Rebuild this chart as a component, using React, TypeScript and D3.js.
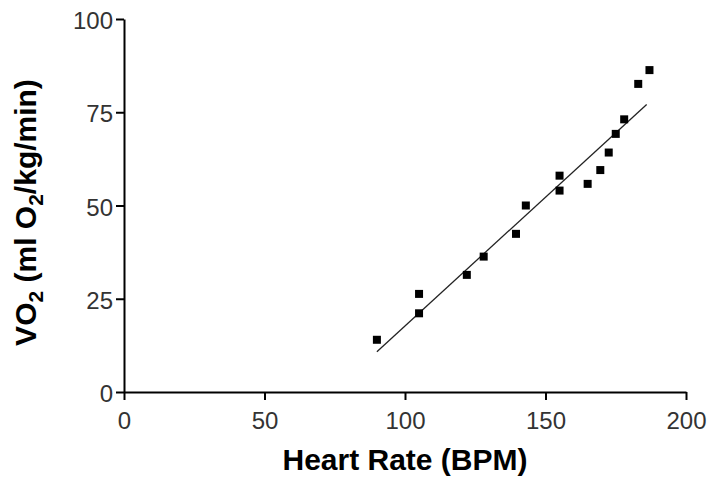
import { useEffect, useRef } from 'react'
import * as d3 from 'd3'

const heartRate = [90, 105, 105, 122, 128, 139.5, 143, 155, 155, 165, 169.5, 172.5, 175, 178, 183, 187]
const vo2 = [14, 26.3, 21.1, 31.4, 36.3, 42.4, 50, 58, 54, 55.8, 59.5, 64.2, 69.2, 73.1, 82.6, 86.3]

// fitted line ends
const fitX = [90, 186]
const fitY = [10.8, 77.1]

const xTicks = [0, 50, 100, 150, 200]
const yTicks = [0, 25, 50, 75, 100]

export default function App() {
  const ref = useRef<SVGSVGElement>(null)

  useEffect(() => {
    const width = 709
    const height = 479
    const margin = { top: 19, right: 23, bottom: 87, left: 124 }

    const svg = d3.select(ref.current)
    svg.selectAll('*').remove()

    const x = d3.scaleLinear().domain([0, 200]).range([margin.left, width - margin.right])
    const y = d3.scaleLinear().domain([0, 100]).range([height - margin.bottom, margin.top])

    // x axis
    svg.append('g')
      .attr('transform', `translate(0,${y(0)})`)
      .call(d3.axisBottom(x).tickValues(xTicks).tickSize(8).tickSizeOuter(0).tickPadding(12))
      .call(g => g.select('.domain').attr('stroke', '#000').attr('stroke-width', 2))
      .call(g => g.selectAll('.tick line').attr('stroke', '#000').attr('stroke-width', 2))
      .selectAll('text')
      .style('fill', '#333')
      .style('font-family', 'Arial, "Liberation Sans", sans-serif')
      .style('font-size', '24px')

    // y axis
    svg.append('g')
      .attr('transform', `translate(${x(0)},0)`)
      .call(d3.axisLeft(y).tickValues(yTicks).tickSize(8).tickSizeOuter(0).tickPadding(3))
      .call(g => g.select('.domain').attr('stroke', '#000').attr('stroke-width', 2))
      .call(g => g.selectAll('.tick line').attr('stroke', '#000').attr('stroke-width', 2))
      .selectAll('text')
      .attr('dy', '0.40em')
      .style('fill', '#333')
      .style('font-family', 'Arial, "Liberation Sans", sans-serif')
      .style('font-size', '24px')

    // fit line
    const line = d3.line<number>()
      .x(d => x(fitX[d]))
      .y(d => y(fitY[d]))
    svg.append('path')
      .datum([0, 1])
      .attr('d', line)
      .attr('fill', 'none')
      .attr('stroke', '#222')
      .attr('stroke-width', 1.3)

    // points
    const s = 8
    svg.selectAll('.pt')
      .data(heartRate)
      .join('rect')
      .attr('class', 'pt')
      .attr('x', d => x(d) - s / 2)
      .attr('y', (d, i) => y(vo2[i]) - s / 2)
      .attr('width', s)
      .attr('height', s)
      .attr('fill', '#000')

    // axis titles
    svg.append('text')
      .attr('x', (x(0) + x(200)) / 2)
      .attr('y', 470)
      .attr('text-anchor', 'middle')
      .style('font-family', 'Arial, "Liberation Sans", sans-serif')
      .style('font-weight', 'bold')
      .style('font-size', '30px')
      .style('fill', '#000')
      .text('Heart Rate (BPM)')

    const yt = svg.append('text')
      .attr('transform', `translate(36,${(y(0) + y(100)) / 2 + 7}) rotate(-90)`)
      .attr('text-anchor', 'middle')
      .style('font-family', 'Arial, "Liberation Sans", sans-serif')
      .style('font-weight', 'bold')
      .style('font-size', '30px')
      .style('fill', '#000')
    yt.append('tspan').text('VO')
    yt.append('tspan').attr('dy', 7).style('font-size', '21px').text('2')
    yt.append('tspan').attr('dy', -7).text(' (ml O')
    yt.append('tspan').attr('dy', 7).style('font-size', '21px').text('2')
    yt.append('tspan').attr('dy', -7).text('/kg/min)')
  }, [])

  return (
    <svg
      ref={ref}
      width={709}
      height={479}
      style={{ position: 'absolute', left: 0, top: 0, background: '#fff' }}
    />
  )
}
